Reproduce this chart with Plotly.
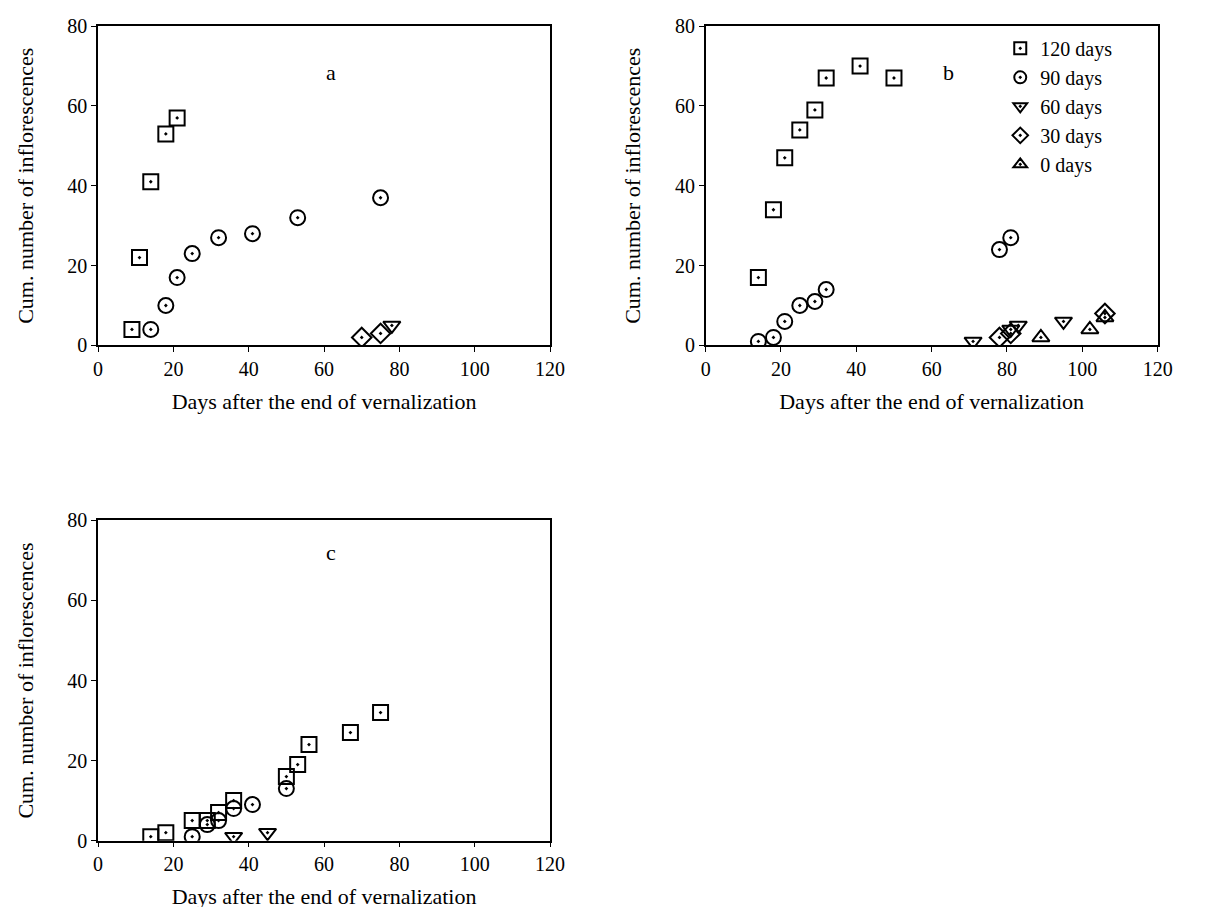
import plotly.graph_objects as go

# panel a
a120_x = [9, 11, 14, 18, 21]
a120_y = [4, 22, 41, 53, 57]
a90_x = [14, 18, 21, 25, 32, 41, 53, 75]
a90_y = [4, 10, 17, 23, 27, 28, 32, 37]
a60_x = [78]
a60_y = [5]
a30_x = [70, 75]
a30_y = [2, 3]

# panel b
b120_x = [14, 18, 21, 25, 29, 32, 41, 50]
b120_y = [17, 34, 47, 54, 59, 67, 70, 67]
b90_x = [14, 18, 21, 25, 29, 32, 78, 81]
b90_y = [1, 2, 6, 10, 11, 14, 24, 27]
b60_x = [71, 81, 83, 95]
b60_y = [1, 4, 5, 6]
b30_x = [78, 81, 106]
b30_y = [2, 3, 8]
b0_x = [89, 102, 106]
b0_y = [2, 4, 7]

# panel c
c120_x = [14, 18, 25, 29, 32, 36, 50, 53, 56, 67, 75]
c120_y = [1, 2, 5, 5, 7, 10, 16, 19, 24, 27, 32]
c90_x = [25, 29, 32, 36, 41, 50]
c90_y = [1, 4, 5, 8, 9, 13]
c60_x = [36, 45]
c60_y = [1, 2]

symbols = {'120 days': 'square-open-dot', '90 days': 'circle-open-dot',
           '60 days': 'triangle-down-open-dot', '30 days': 'diamond-open-dot',
           '0 days': 'triangle-up-open-dot'}

panels = [
    ('', '', 'a', [('120 days', a120_x, a120_y), ('90 days', a90_x, a90_y),
                   ('60 days', a60_x, a60_y), ('30 days', a30_x, a30_y)]),
    ('2', '2', 'b', [('120 days', b120_x, b120_y), ('90 days', b90_x, b90_y),
                     ('60 days', b60_x, b60_y), ('30 days', b30_x, b30_y), ('0 days', b0_x, b0_y)]),
    ('3', '3', 'c', [('120 days', c120_x, c120_y), ('90 days', c90_x, c90_y), ('60 days', c60_x, c60_y)]),
]

fig = go.Figure()
for xa, ya, label, series in panels:
    for name, xs, ys in series:
        fig.add_trace(go.Scatter(
            x=xs, y=ys, mode='markers', name=name, xaxis='x' + xa, yaxis='y' + ya,
            showlegend=(label == 'b'),
            marker=dict(symbol=symbols[name], size=15, color='black', line=dict(width=2)),
        ))

serif = 'Liberation Serif'
axis_common = dict(showgrid=False, zeroline=False, showline=True, linecolor='black', linewidth=1.5,
                   mirror=True, ticks='outside', ticklen=5, tickcolor='black', automargin=False,
                   tickfont=dict(family=serif, size=20, color='black'))
xdom = [[0.0735, 0.4425], [0.5695, 0.9385], [0.0735, 0.4425]]
ydom = [[0.628, 0.98], [0.628, 0.98], [0.082, 0.435]]
layout = dict(width=1225, height=907, plot_bgcolor='white', paper_bgcolor='white',
              margin=dict(l=0, r=0, t=0, b=0), font=dict(family=serif, size=20, color='black'),
              legend=dict(x=0.81, y=0.977, xanchor='left', yanchor='top', bgcolor='rgba(0,0,0,0)',
                          font=dict(family=serif, size=20), itemsizing='constant',
                          tracegroupgap=0))
for i, (xa, ya, label, _) in enumerate(panels):
    layout['xaxis' + xa] = dict(axis_common, domain=xdom[i], range=[0, 120], dtick=20, anchor='y' + ya,
                                title=dict(text='Days after the end of vernalization', standoff=14,
                                           font=dict(family=serif, size=22)))
    layout['yaxis' + ya] = dict(axis_common, domain=ydom[i], range=[0, 80], dtick=20, anchor='x' + xa,
                                title=dict(text='Cum. number of inflorescences', standoff=28,
                                           font=dict(family=serif, size=22)))
fig.update_layout(**layout)
for i, (xa, ya, label, _) in enumerate(panels):
    fig.add_annotation(x=(xdom[i][0] + xdom[i][1]) / 2 + (0.0 if i != 1 else 0.02), y=ydom[i][1] - 0.035,
                       xref='paper', yref='paper', text=label, showarrow=False,
                       font=dict(family=serif, size=22))

fig.write_html('out.html')
